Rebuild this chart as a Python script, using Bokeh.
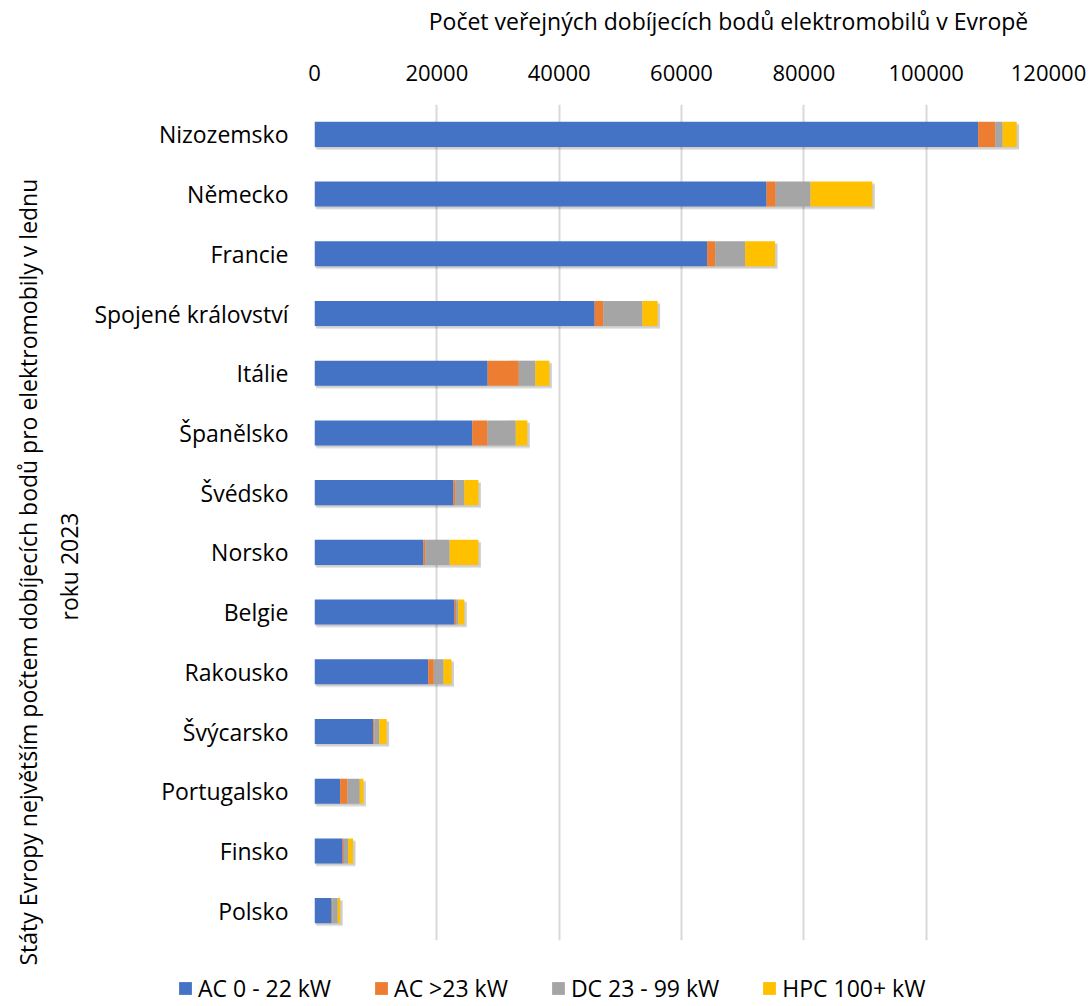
from bokeh.plotting import figure
from bokeh.layouts import column
from bokeh.models import (Legend, LegendItem, ColumnDataSource, FixedTicker,
                          NumeralTickFormatter, Title)
from bokeh.core.properties import value
from bokeh.transform import dodge
from bokeh.embed import file_html
from bokeh.resources import INLINE

countries = ["Nizozemsko", "Německo", "Francie", "Spojené království", "Itálie",
             "Španělsko", "Švédsko", "Norsko", "Belgie", "Rakousko",
             "Švýcarsko", "Portugalsko", "Finsko", "Polsko"]
ac_0_22 = [108500, 73900, 64200, 45800, 28300, 25800, 22700, 17800, 22900, 18600, 9600, 4200, 4600, 2800]
ac_23 = [2800, 1500, 1300, 1400, 5100, 2500, 300, 300, 300, 900, 200, 1200, 200, 100]
dc_23_99 = [1200, 5700, 4900, 6400, 2700, 4600, 1500, 4000, 300, 1600, 800, 2000, 700, 900]
hpc_100 = [2300, 10100, 4900, 2500, 2300, 1900, 2300, 4700, 1000, 1300, 1200, 600, 800, 400]
series_names = ["AC 0 - 22 kW", "AC >23 kW", "DC 23 - 99 kW", "HPC 100+ kW"]
x_ticks = [0, 20000, 40000, 60000, 80000, 100000, 120000]
x_title = "Počet veřejných dobíjecích bodů elektromobilů v Evropě"
y_title_1 = "Státy Evropy největším počtem dobíjecích bodů pro elektromobily v lednu"
y_title_2 = "roku 2023"
colors = ["#4472C4", "#ED7D31", "#A5A5A5", "#FFC000"]

keys = ["s0", "s1", "s2", "s3"]
totals = [a + b + c + d for a, b, c, d in zip(ac_0_22, ac_23, dc_23_99, hpc_100)]
src = ColumnDataSource(dict(country=countries, s0=ac_0_22, s1=ac_23, s2=dc_23_99, s3=hpc_100,
                            total=totals, shadow_right=[t + 400 for t in totals]))

FONT = "Open Sans"
W = 1092
LEFT, RIGHT = 314, 44


def no_align(fig):
    if hasattr(fig, "frame_align"):
        fig.frame_align = False


# ---- top strip with the chart title (x in canvas pixels) ----
top = figure(width=W, height=40, x_range=(LEFT, W - RIGHT), y_range=(0, 40),
             output_backend="svg", toolbar_location=None,
             min_border_left=LEFT, min_border_right=RIGHT, min_border_top=0, min_border_bottom=0)
top.axis.visible = False
top.grid.visible = False
top.outline_line_color = None
top.text(x=[728], y=[20], text=[x_title], text_font=value(FONT), text_font_size="23px",
         text_align="center", text_baseline="middle", text_color="#000000")

# ---- main chart ----
p = figure(frame_width=734, frame_height=836,
           y_range=list(reversed(countries)), x_range=(0, 120000),
           x_axis_location="above", output_backend="svg", toolbar_location=None,
           min_border_left=LEFT, min_border_right=RIGHT, min_border_top=64, min_border_bottom=26)
p.outline_line_color = None
p.y_range.range_padding = 0

# soft shadow under bars
p.hbar(y=dodge("country", -0.05, range=p.y_range), left=300, right="shadow_right",
       height=0.42, source=src, fill_color="#000000", fill_alpha=0.10, line_color=None)
p.hbar(y=dodge("country", -0.03, range=p.y_range), left=150, right="shadow_right",
       height=0.42, source=src, fill_color="#000000", fill_alpha=0.10, line_color=None)
renderers = p.hbar_stack(keys, y="country", height=0.42, color=colors, source=src, line_color=None)

p.xaxis.ticker = FixedTicker(ticks=x_ticks)
p.xaxis.formatter = NumeralTickFormatter(format="0")
p.xaxis.major_label_text_font = FONT
p.xaxis.major_label_text_font_size = "22px"
p.xaxis.major_label_text_color = "#000000"
p.xaxis.axis_line_color = None
p.xaxis.major_tick_line_color = None
p.xaxis.minor_tick_line_color = None
p.xaxis.major_label_standoff = 18

p.yaxis.major_label_text_font = FONT
p.yaxis.major_label_text_font_size = "23px"
p.yaxis.major_label_text_color = "#000000"
p.yaxis.axis_line_color = None
p.yaxis.major_tick_line_color = None
p.yaxis.major_label_standoff = 20

p.xgrid.grid_line_color = "#D9D9D9"
p.xgrid.grid_line_width = 2
p.ygrid.grid_line_color = None

p.add_layout(Title(text=y_title_2, align="left", offset=320, text_font=FONT,
                   text_font_size="23px", text_font_style="normal", text_color="#000000",
                   standoff=14), "left")
p.add_layout(Title(text=y_title_1, align="left", offset=-25, text_font=FONT,
                   text_font_size="23px", text_font_style="normal", text_color="#000000",
                   standoff=0), "left")

# ---- bottom strip with the legend ----
leg = figure(width=W, height=40, x_range=(0, 1), y_range=(0, 1), output_backend="svg",
             toolbar_location=None, min_border=0)
no_align(leg)
no_align(top)
leg.axis.visible = False
leg.grid.visible = False
leg.outline_line_color = None
proxy = ColumnDataSource(dict(y=[0.5], left=[0], right=[0]))
leg_renderers = [leg.hbar(y="y", left="left", right="right", height=0.5, source=proxy,
                          fill_color=c, line_color=None) for c in colors]
items = [LegendItem(label=n, renderers=[r]) for n, r in zip(series_names, leg_renderers)]
legend = Legend(items=items, orientation="horizontal", location=(177, 2),
                label_text_font=FONT, label_text_font_size="23px", label_text_color="#000000",
                glyph_width=16, glyph_height=16, spacing=42, label_standoff=5,
                border_line_color=None, background_fill_alpha=0, padding=2, margin=0)
leg.add_layout(legend, "center")

layout = column(top, p, leg, spacing=0)
open("out.html", "w").write(file_html(layout, INLINE))
